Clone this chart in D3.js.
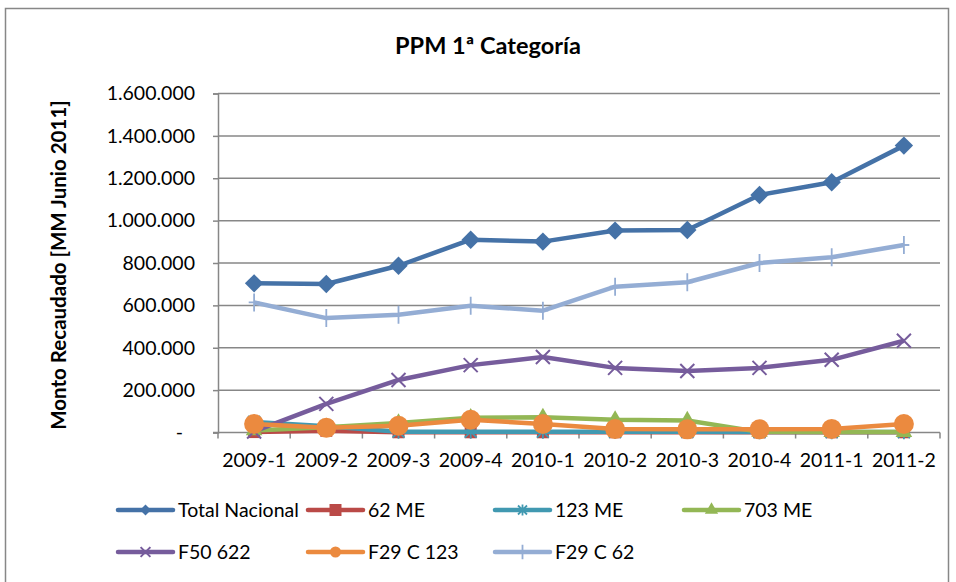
<!DOCTYPE html>
<html>
<head>
<meta charset="utf-8">
<script src="https://cdn.jsdelivr.net/npm/d3@7"></script>
<style>
  body { margin: 0; background: #fff; }
  svg { font-family: Lato, "Open Sans", sans-serif; }
</style>
</head>
<body>
<svg id="chart" width="956" height="582"></svg>
<script>
// data
const periods = ['2009-1', '2009-2', '2009-3', '2009-4', '2010-1', '2010-2', '2010-3', '2010-4', '2011-1', '2011-2'];
const totalNacional = [704000, 701000, 787000, 910000, 901000, 953000, 956000, 1121000, 1181000, 1354000];
const me62 = [2000, 8000, 1000, 1000, 1000, 1000, 1000, 1000, 1000, 1000];
const me123 = [50000, 30000, 4000, 4000, 4000, 3000, 3000, 2000, 2000, 2000];
const me703 = [10000, 25000, 45000, 70000, 72000, 60000, 57000, 3000, 2000, 2000];
const f50_622 = [5000, 135000, 248000, 318000, 356000, 305000, 290000, 305000, 343000, 433000];
const f29c123 = [40000, 22000, 32000, 60000, 40000, 16000, 15000, 15000, 17000, 40000];
const f29c62 = [614000, 540000, 556000, 598000, 575000, 688000, 709000, 800000, 827000, 885000];
const yTicks = [0, 200000, 400000, 600000, 800000, 1000000, 1200000, 1400000, 1600000];

const series = [
  { name: 'Total Nacional', values: totalNacional, color: '#4572A7', marker: 'diamond' },
  { name: '62 ME', values: me62, color: '#BA4A47', marker: 'square' },
  { name: '123 ME', values: me123, color: '#4199B1', marker: 'star' },
  { name: '703 ME', values: me703, color: '#93B755', marker: 'triangle' },
  { name: 'F50 622', values: f50_622, color: '#765C9C', marker: 'x' },
  { name: 'F29 C 123', values: f29c123, color: '#EB8A3F', marker: 'circle' },
  { name: 'F29 C 62', values: f29c62, color: '#94ADD4', marker: 'plus' }
];

const svg = d3.select('#chart');
const grey = '#878787';

// chart frame
svg.append('rect')
  .attr('x', 5.5).attr('y', 8.5)
  .attr('width', 943).attr('height', 600)
  .attr('fill', '#fff').attr('stroke', grey).attr('stroke-width', 1.5);

const x = d3.scaleBand().domain(periods).range([218, 940]);
const y = d3.scaleLinear().domain([0, 1600000]).range([432.5, 93.5]);

const loc = d3.formatLocale({ decimal: ',', thousands: '.', grouping: [3], currency: ['$', ''] });
const fmt = loc.format(',d');

// gridlines
svg.append('g').selectAll('line')
  .data(yTicks.filter(d => d > 0))
  .join('line')
  .attr('x1', 218).attr('x2', 940)
  .attr('y1', d => y(d)).attr('y2', d => y(d))
  .attr('stroke', grey).attr('stroke-width', 1.5);

// y axis
const yAxis = svg.append('g')
  .attr('transform', 'translate(218,0)')
  .call(d3.axisLeft(y).tickValues(yTicks).tickSize(5).tickPadding(18)
    .tickFormat(d => d === 0 ? '-' : fmt(d)));
yAxis.select('.domain').attr('stroke', grey).attr('stroke-width', 1.5);
yAxis.selectAll('.tick line').attr('stroke', grey).attr('stroke-width', 1.5);
yAxis.selectAll('.tick text')
  .attr('font-family', 'Lato, sans-serif').attr('font-size', 19.5).attr('fill', '#000');
yAxis.selectAll('.tick').filter(d => d === 0).select('text').attr('dx', -12);

// x axis
svg.append('line')
  .attr('x1', 213).attr('x2', 940)
  .attr('y1', y(0)).attr('y2', y(0))
  .attr('stroke', grey).attr('stroke-width', 1.5);
const bounds = periods.map(p => x(p)).concat([x.range()[1]]);
svg.append('g').selectAll('line')
  .data(bounds)
  .join('line')
  .attr('x1', d => d).attr('x2', d => d)
  .attr('y1', y(0)).attr('y2', y(0) + 6)
  .attr('stroke', grey).attr('stroke-width', 1.5);
svg.append('g').selectAll('text')
  .data(periods)
  .join('text')
  .attr('x', d => x(d) + x.bandwidth() / 2)
  .attr('y', 467)
  .attr('text-anchor', 'middle')
  .attr('font-size', 19.5)
  .text(d => d);

// titles
svg.append('text')
  .attr('x', 488).attr('y', 54)
  .attr('text-anchor', 'middle')
  .attr('font-weight', 'bold').attr('font-size', 23.5)
  .text('PPM 1ª Categoría');
svg.append('text')
  .attr('transform', 'translate(66,265) rotate(-90)')
  .attr('text-anchor', 'middle')
  .attr('font-weight', 'bold').attr('font-size', 20.5)
  .text('Monto Recaudado [MM Junio 2011]');

// marker drawing
function drawMarker(g, type, color, s) {
  if (type === 'diamond') {
    g.append('path').attr('d', d3.symbol(d3.symbolSquare, 13 * 13 * s * s)())
      .attr('transform', 'rotate(45)').attr('fill', color);
  } else if (type === 'square') {
    g.append('path').attr('d', d3.symbol(d3.symbolSquare, 12 * 12 * s * s)()).attr('fill', color);
  } else if (type === 'triangle') {
    g.append('path').attr('d', d3.symbol(d3.symbolTriangle, 120 * s * s)()).attr('fill', color);
  } else if (type === 'circle') {
    g.append('circle').attr('r', 10 * s).attr('fill', color);
  } else if (type === 'x') {
    const h = 7 * s;
    g.append('path').attr('d', `M${-h},${-h}L${h},${h}M${-h},${h}L${h},${-h}`)
      .attr('stroke', color).attr('stroke-width', 2).attr('fill', 'none');
  } else if (type === 'star') {
    const h = 6 * s;
    g.append('path').attr('d', `M${-h},${-h}L${h},${h}M${-h},${h}L${h},${-h}M0,${-h * 1.2}L0,${h * 1.2}`)
      .attr('stroke', color).attr('stroke-width', 1.8).attr('fill', 'none');
  } else if (type === 'plus') {
    const h = 9 * s;
    g.append('path').attr('d', `M0,${-h}L0,${h}M${-h * 0.6},0L${h * 0.6},0`)
      .attr('stroke', color).attr('stroke-width', 1.8).attr('fill', 'none');
  }
}

const line = d3.line()
  .x((d, i) => x(periods[i]) + x.bandwidth() / 2)
  .y(d => y(d));

series.forEach(s => {
  const g = svg.append('g');
  g.append('path')
    .attr('d', line(s.values))
    .attr('fill', 'none')
    .attr('stroke', s.color)
    .attr('stroke-width', 4.5)
    .attr('stroke-linejoin', 'round');
  s.values.forEach((v, i) => {
    const m = g.append('g')
      .attr('transform', `translate(${x(periods[i]) + x.bandwidth() / 2},${y(v)})`);
    drawMarker(m, s.marker, s.color, 1);
  });
});

// legend (markers drawn smaller than in the plot)
const legendX = [118, 308, 495, 684];
const legendY = [510, 552];
const legendScale = { diamond: 0.6, square: 1, star: 0.75, triangle: 0.8, x: 0.7, circle: 0.55, plus: 0.8 };
series.forEach((s, i) => {
  const lx = legendX[i % 4];
  const ly = legendY[Math.floor(i / 4)];
  const g = svg.append('g');
  g.append('line')
    .attr('x1', lx).attr('x2', lx + 55)
    .attr('y1', ly).attr('y2', ly)
    .attr('stroke', s.color).attr('stroke-width', 4.5).attr('stroke-linecap', 'round');
  drawMarker(g.append('g').attr('transform', `translate(${lx + 27.5},${ly})`), s.marker, s.color, legendScale[s.marker]);
  g.append('text')
    .attr('x', lx + 60).attr('y', ly + 7)
    .attr('font-size', 19.5)
    .text(s.name);
});
</script>
</body>
</html>
